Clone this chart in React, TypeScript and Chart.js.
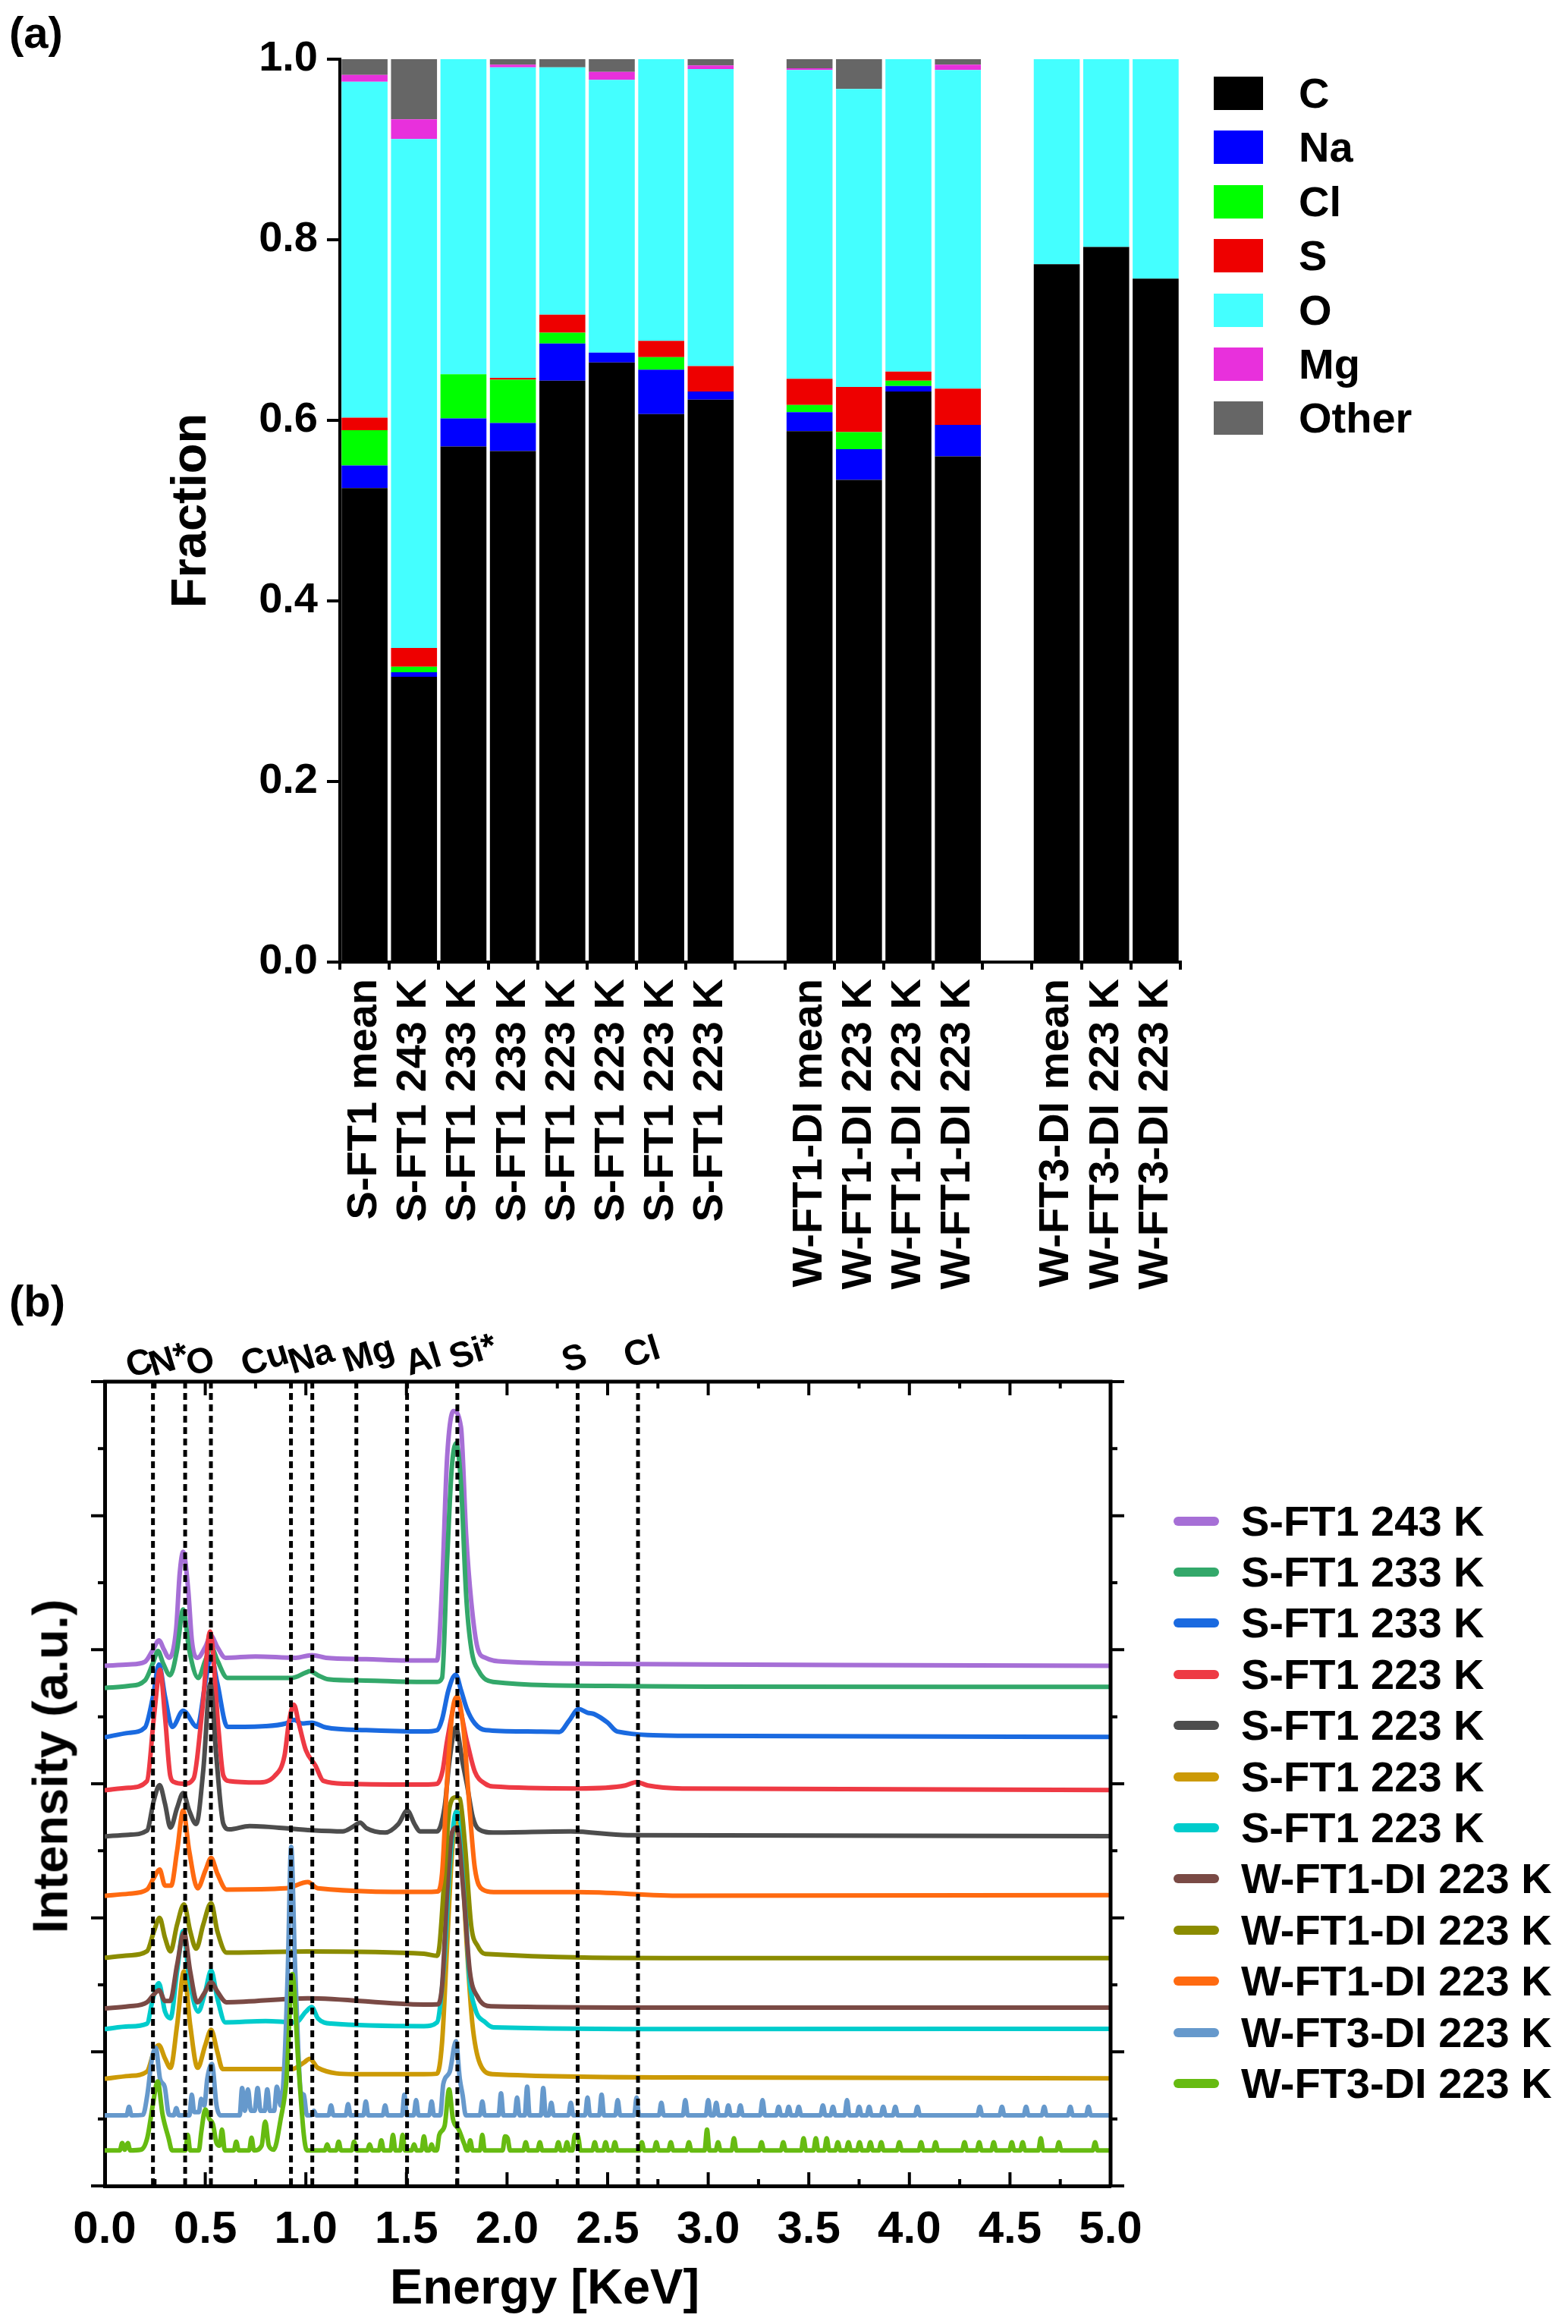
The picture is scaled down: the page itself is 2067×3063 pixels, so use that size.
import { useEffect, useRef } from "react"
import { Chart, registerables } from "chart.js"

Chart.register(...registerables)

const FONT = '"Liberation Sans", Arial, Helvetica, sans-serif'

// ---- panel (a): element fractions per sample ----
const sampleLabels = [
  "S-FT1 mean", "S-FT1 243 K", "S-FT1 233 K", "S-FT1 233 K",
  "S-FT1 223 K", "S-FT1 223 K", "S-FT1 223 K", "S-FT1 223 K",
  "",
  "W-FT1-DI mean", "W-FT1-DI 223 K", "W-FT1-DI 223 K", "W-FT1-DI 223 K",
  "",
  "W-FT3-DI mean", "W-FT3-DI 223 K", "W-FT3-DI 223 K",
]

const fracC = [0.525, 0.316, 0.571, 0.566, 0.644, 0.664, 0.607, 0.623, null, 0.588, 0.534, 0.632, 0.56, null, 0.773, 0.792, 0.757]
const fracNa = [0.025, 0.005, 0.031, 0.031, 0.041, 0.011, 0.049, 0.009, null, 0.021, 0.034, 0.006, 0.035, null, 0, 0, 0]
const fracCl = [0.039, 0.006, 0.049, 0.048, 0.012, 0, 0.014, 0, null, 0.008, 0.019, 0.006, 0, null, 0, 0, 0]
const fracS = [0.014, 0.021, 0, 0.002, 0.02, 0, 0.018, 0.028, null, 0.029, 0.05, 0.01, 0.04, null, 0, 0, 0]
const fracO = [0.372, 0.5635, 0.349, 0.344, 0.274, 0.302, 0.312, 0.329, null, 0.342, 0.33, 0.346, 0.353, null, 0.227, 0.208, 0.243]
const fracMg = [0.0075, 0.022, 0, 0.003, 0, 0.009, 0, 0.004, null, 0.002, 0, 0, 0.006, null, 0, 0, 0]
const fracOther = [0.0175, 0.0665, 0, 0.006, 0.009, 0.014, 0, 0.007, null, 0.01, 0.033, 0, 0.006, null, 0, 0, 0]

const elementNames = ["C", "Na", "Cl", "S", "O", "Mg", "Other"]
const elementColors = ["#000000", "#0000ff", "#00ff00", "#ee0000", "#44ffff", "#e830dc", "#666666"]
const elementData = [fracC, fracNa, fracCl, fracS, fracO, fracMg, fracOther]

// ---- panel (b): EDS spectra, [energy keV, offset intensity] ----
const peakNames = ["C", "N*", "O", "Cu", "Na", "Mg", "Al", "Si*", "S", "Cl"]
const peakEnergies = [0.24, 0.4, 0.528, 0.926, 1.032, 1.251, 1.503, 1.753, 2.351, 2.651]

const specS243 = [[0, 3.88], [0.12, 3.89], [0.2, 3.91], [0.24, 4.0], [0.27, 4.07], [0.295, 4.0], [0.32, 3.94], [0.355, 4.15], [0.373, 4.57], [0.39, 4.73], [0.415, 4.45], [0.434, 4.06], [0.462, 3.94], [0.5, 4.02], [0.528, 4.105], [0.56, 4.02], [0.6, 3.94], [0.75, 3.95], [0.95, 3.94], [1.03, 3.96], [1.1, 3.94], [1.3, 3.93], [1.5, 3.92], [1.652, 3.92], [1.677, 4.47], [1.702, 5.43], [1.734, 5.78], [1.771, 5.66], [1.797, 4.85], [1.822, 4.36], [1.854, 4.01], [1.892, 3.94], [2.0, 3.91], [2.5, 3.895], [3.0, 3.89], [4.0, 3.885], [5.0, 3.88]]
const specS233a = [[0, 3.715], [0.12, 3.73], [0.2, 3.77], [0.24, 3.9], [0.265, 3.99], [0.29, 3.9], [0.325, 3.81], [0.36, 4.0], [0.39, 4.3], [0.42, 4.0], [0.465, 3.79], [0.5, 3.92], [0.53, 4.02], [0.56, 3.92], [0.61, 3.79], [0.8, 3.79], [0.93, 3.79], [1.0, 3.83], [1.02, 3.84], [1.06, 3.81], [1.11, 3.78], [1.3, 3.77], [1.55, 3.76], [1.652, 3.76], [1.677, 3.79], [1.702, 4.66], [1.725, 5.35], [1.747, 5.54], [1.771, 5.24], [1.797, 4.4], [1.822, 4.01], [1.86, 3.84], [1.93, 3.76], [2.5, 3.73], [3.0, 3.725], [5.0, 3.723]]
const specS233b = [[0, 3.347], [0.12, 3.38], [0.2, 3.42], [0.24, 3.65], [0.27, 3.89], [0.3, 3.65], [0.336, 3.424], [0.39, 3.545], [0.46, 3.424], [0.5, 3.75], [0.528, 3.954], [0.56, 3.75], [0.61, 3.424], [0.8, 3.43], [0.9, 3.45], [0.942, 3.477], [0.98, 3.45], [1.029, 3.456], [1.1, 3.42], [1.3, 3.4], [1.587, 3.39], [1.652, 3.4], [1.677, 3.48], [1.709, 3.7], [1.745, 3.814], [1.771, 3.7], [1.8, 3.56], [1.84, 3.45], [1.894, 3.4], [2.1, 3.39], [2.26, 3.387], [2.308, 3.47], [2.356, 3.557], [2.4, 3.53], [2.433, 3.52], [2.5, 3.456], [2.548, 3.39], [2.87, 3.358], [5.0, 3.35]]
const specS223a = [[0, 2.952], [0.12, 2.97], [0.21, 3.02], [0.245, 3.5], [0.275, 3.85], [0.3, 3.5], [0.326, 3.06], [0.345, 3.013], [0.394, 3.0], [0.442, 3.04], [0.485, 3.55], [0.524, 4.136], [0.566, 3.4], [0.59, 3.06], [0.62, 3.02], [0.76, 3.01], [0.846, 3.06], [0.894, 3.21], [0.915, 3.45], [0.94, 3.59], [0.965, 3.45], [1.0, 3.25], [1.048, 3.135], [1.087, 3.022], [1.2, 3.0], [1.587, 2.994], [1.652, 3.0], [1.68, 3.1], [1.702, 3.32], [1.75, 3.62], [1.8, 3.32], [1.84, 3.09], [1.892, 3.0], [1.93, 2.98], [2.356, 2.965], [2.588, 2.987], [2.644, 3.013], [2.7, 2.987], [2.87, 2.965], [5.0, 2.954]]
const specS223b = [[0, 2.607], [0.12, 2.62], [0.21, 2.65], [0.245, 2.88], [0.273, 2.99], [0.3, 2.85], [0.327, 2.673], [0.36, 2.82], [0.39, 2.93], [0.42, 2.8], [0.455, 2.7], [0.49, 3.1], [0.525, 3.75], [0.555, 3.2], [0.59, 2.7], [0.62, 2.66], [0.72, 2.685], [1.01, 2.655], [1.183, 2.645], [1.235, 2.68], [1.27, 2.71], [1.3, 2.67], [1.394, 2.636], [1.46, 2.7], [1.504, 2.8], [1.54, 2.7], [1.567, 2.645], [1.652, 2.645], [1.69, 2.83], [1.712, 3.15], [1.745, 3.42], [1.78, 3.15], [1.8, 3.0], [1.83, 2.75], [1.86, 2.66], [1.93, 2.636], [2.317, 2.645], [2.6, 2.617], [5.0, 2.61]]
const specS223c = [[0, 0.8], [0.12, 0.82], [0.21, 0.853], [0.245, 1.0], [0.269, 1.05], [0.3, 0.95], [0.327, 0.881], [0.36, 1.2], [0.394, 1.6], [0.425, 1.2], [0.462, 0.881], [0.5, 1.05], [0.529, 1.165], [0.56, 1.0], [0.586, 0.872], [0.933, 0.872], [0.99, 0.92], [1.019, 0.948], [1.06, 0.88], [1.24, 0.834], [1.587, 0.834], [1.652, 0.837], [1.677, 1.07], [1.702, 1.79], [1.725, 2.45], [1.75, 2.8], [1.775, 2.45], [1.8, 1.79], [1.827, 1.22], [1.866, 0.91], [1.93, 0.834], [2.87, 0.81], [5.0, 0.803]]
const specS223d = [[0, 1.17], [0.12, 1.19], [0.21, 1.21], [0.24, 1.4], [0.269, 1.513], [0.3, 1.3], [0.327, 1.25], [0.36, 1.6], [0.39, 1.9], [0.42, 1.55], [0.465, 1.3], [0.5, 1.45], [0.529, 1.607], [0.56, 1.4], [0.6, 1.22], [0.8, 1.23], [0.95, 1.22], [1.0, 1.3], [1.029, 1.334], [1.06, 1.25], [1.125, 1.211], [1.587, 1.192], [1.652, 1.22], [1.664, 1.3], [1.69, 1.72], [1.715, 2.37], [1.747, 2.79], [1.78, 2.56], [1.81, 1.6], [1.84, 1.33], [1.892, 1.22], [1.933, 1.183], [2.87, 1.17], [5.0, 1.172]]
const specW1a = [[0, 1.325], [0.12, 1.34], [0.21, 1.37], [0.245, 1.43], [0.27, 1.46], [0.3, 1.38], [0.325, 1.38], [0.36, 1.65], [0.394, 1.89], [0.425, 1.6], [0.46, 1.37], [0.5, 1.45], [0.529, 1.52], [0.56, 1.45], [0.606, 1.37], [1.01, 1.4], [1.587, 1.353], [1.652, 1.354], [1.677, 1.49], [1.702, 2.18], [1.727, 2.64], [1.75, 2.675], [1.784, 2.18], [1.815, 1.6], [1.854, 1.41], [1.92, 1.34], [2.87, 1.33], [5.0, 1.33]]
const specW1b = [[0, 1.702], [0.12, 1.72], [0.21, 1.75], [0.245, 1.9], [0.273, 2.0], [0.3, 1.85], [0.327, 1.75], [0.36, 1.95], [0.394, 2.1], [0.425, 1.9], [0.455, 1.77], [0.49, 1.95], [0.529, 2.11], [0.56, 1.9], [0.606, 1.74], [1.01, 1.749], [1.587, 1.732], [1.652, 1.717], [1.664, 1.79], [1.69, 2.33], [1.715, 2.83], [1.745, 2.9], [1.765, 2.89], [1.79, 2.56], [1.822, 1.94], [1.854, 1.79], [1.892, 1.73], [2.87, 1.7], [5.0, 1.7]]
const specW1c = [[0, 2.164], [0.12, 2.18], [0.21, 2.21], [0.245, 2.3], [0.273, 2.36], [0.3, 2.24], [0.33, 2.24], [0.36, 2.5], [0.39, 2.8], [0.42, 2.5], [0.462, 2.22], [0.5, 2.35], [0.529, 2.447], [0.56, 2.33], [0.606, 2.211], [0.9, 2.22], [1.01, 2.267], [1.06, 2.22], [1.587, 2.193], [1.652, 2.196], [1.677, 2.33], [1.702, 3.02], [1.727, 3.52], [1.752, 3.65], [1.784, 3.4], [1.815, 2.79], [1.84, 2.37], [1.88, 2.21], [1.933, 2.192], [2.35, 2.192], [2.87, 2.165], [5.0, 2.17]]
const specW3a = [
  [0, 0.527], [0.109, 0.527], [0.121, 0.59], [0.133, 0.527],
  [0.19, 0.53], [0.212, 0.68], [0.235, 0.95], [0.254, 1.03], [0.275, 0.8], [0.298, 0.74], [0.32, 0.53],
  [0.344, 0.527], [0.356, 0.58], [0.368, 0.527],
  [0.421, 0.527], [0.433, 0.68], [0.445, 0.55], [0.468, 0.55], [0.48, 0.65], [0.495, 0.6], [0.51, 0.8], [0.533, 0.91], [0.556, 0.6], [0.575, 0.527],
  [0.671, 0.527], [0.683, 0.73], [0.697, 0.56], [0.712, 0.72], [0.727, 0.56], [0.745, 0.56], [0.76, 0.73], [0.775, 0.56], [0.795, 0.56], [0.808, 0.72], [0.822, 0.56], [0.842, 0.56], [0.856, 0.74], [0.875, 0.6], [0.894, 0.93], [0.91, 1.6], [0.927, 2.53], [0.945, 1.7], [0.962, 1.02], [0.975, 0.7], [0.99, 0.68], [1.005, 0.527],
  [1.028, 0.527], [1.04, 0.56], [1.052, 0.527],
  [1.113, 0.527], [1.125, 0.6], [1.137, 0.527],
  [1.198, 0.527], [1.21, 0.61], [1.222, 0.527],
  [1.286, 0.527], [1.298, 0.63], [1.31, 0.527],
  [1.382, 0.527], [1.394, 0.6], [1.406, 0.527],
  [1.478, 0.527], [1.49, 0.68], [1.502, 0.527],
  [1.536, 0.527], [1.548, 0.64], [1.56, 0.527],
  [1.613, 0.527], [1.625, 0.63], [1.637, 0.527],
  [1.668, 0.527], [1.683, 0.76], [1.715, 0.85], [1.746, 1.08], [1.765, 0.8], [1.779, 0.68], [1.795, 0.527],
  [1.865, 0.527], [1.877, 0.63], [1.889, 0.527],
  [1.958, 0.527], [1.97, 0.69], [1.982, 0.527],
  [2.038, 0.527], [2.05, 0.66], [2.062, 0.527],
  [2.088, 0.527], [2.1, 0.74], [2.112, 0.527],
  [2.168, 0.527], [2.18, 0.73], [2.192, 0.527],
  [2.208, 0.527], [2.22, 0.62], [2.232, 0.527],
  [2.305, 0.527], [2.317, 0.62], [2.329, 0.527],
  [2.388, 0.527], [2.4, 0.66], [2.412, 0.527],
  [2.458, 0.527], [2.47, 0.68], [2.482, 0.527],
  [2.538, 0.527], [2.55, 0.64], [2.562, 0.527],
  [2.632, 0.527], [2.644, 0.66], [2.656, 0.527],
  [2.755, 0.527], [2.767, 0.62], [2.779, 0.527],
  [2.874, 0.527], [2.886, 0.64], [2.898, 0.527],
  [2.988, 0.527], [3.0, 0.64], [3.012, 0.527],
  [3.028, 0.527], [3.04, 0.62], [3.052, 0.527],
  [3.088, 0.527], [3.1, 0.6], [3.112, 0.527],
  [3.148, 0.527], [3.16, 0.6], [3.172, 0.527],
  [3.258, 0.527], [3.27, 0.64], [3.282, 0.527],
  [3.338, 0.527], [3.35, 0.59], [3.362, 0.527],
  [3.388, 0.527], [3.4, 0.59], [3.412, 0.527],
  [3.438, 0.527], [3.45, 0.59], [3.462, 0.527],
  [3.558, 0.527], [3.57, 0.6], [3.582, 0.527],
  [3.608, 0.527], [3.62, 0.59], [3.632, 0.527],
  [3.678, 0.527], [3.69, 0.64], [3.702, 0.527],
  [3.738, 0.527], [3.75, 0.59], [3.762, 0.527],
  [3.788, 0.527], [3.8, 0.59], [3.812, 0.527],
  [3.858, 0.527], [3.87, 0.59], [3.882, 0.527],
  [3.918, 0.527], [3.93, 0.59], [3.942, 0.527],
  [4.028, 0.527], [4.04, 0.59], [4.052, 0.527],
  [4.338, 0.527], [4.35, 0.59], [4.362, 0.527],
  [4.448, 0.527], [4.46, 0.59], [4.472, 0.527],
  [4.568, 0.527], [4.58, 0.59], [4.592, 0.527],
  [4.658, 0.527], [4.67, 0.59], [4.682, 0.527],
  [4.788, 0.527], [4.8, 0.59], [4.812, 0.527],
  [4.878, 0.527], [4.89, 0.59], [4.902, 0.527],
  [5.0, 0.527],
]
const specW3b = [
  [0, 0.265], [0.075, 0.265], [0.087, 0.32], [0.1, 0.27], [0.115, 0.32], [0.127, 0.265],
  [0.18, 0.27], [0.212, 0.36], [0.24, 0.61], [0.263, 0.78], [0.288, 0.53], [0.317, 0.36], [0.335, 0.265],
  [0.401, 0.265], [0.413, 0.38], [0.425, 0.265],
  [0.468, 0.265], [0.48, 0.4], [0.5, 0.57], [0.52, 0.5], [0.538, 0.46], [0.556, 0.32], [0.571, 0.3], [0.583, 0.42], [0.597, 0.265],
  [0.642, 0.265], [0.654, 0.33], [0.666, 0.265],
  [0.718, 0.265], [0.73, 0.36], [0.742, 0.265],
  [0.78, 0.3], [0.798, 0.48], [0.816, 0.3], [0.84, 0.27], [0.875, 0.5], [0.904, 0.8], [0.933, 1.58], [0.962, 0.93], [0.99, 0.38], [1.005, 0.265],
  [1.094, 0.265], [1.106, 0.31], [1.118, 0.265],
  [1.151, 0.265], [1.163, 0.33], [1.175, 0.265],
  [1.228, 0.265], [1.24, 0.33], [1.252, 0.265],
  [1.305, 0.265], [1.317, 0.31], [1.329, 0.265],
  [1.363, 0.265], [1.375, 0.34], [1.387, 0.265],
  [1.421, 0.265], [1.433, 0.38], [1.445, 0.265],
  [1.469, 0.265], [1.481, 0.38], [1.493, 0.265],
  [1.526, 0.265], [1.538, 0.31], [1.55, 0.265],
  [1.575, 0.265], [1.587, 0.37], [1.599, 0.265],
  [1.613, 0.265], [1.625, 0.31], [1.637, 0.265],
  [1.651, 0.265], [1.663, 0.38], [1.69, 0.45], [1.712, 0.72], [1.731, 0.5], [1.76, 0.42], [1.788, 0.31], [1.8, 0.265],
  [1.805, 0.265], [1.817, 0.34], [1.829, 0.265],
  [1.865, 0.265], [1.877, 0.38], [1.889, 0.265],
  [1.978, 0.265], [1.99, 0.37], [2.003, 0.355], [2.015, 0.265],
  [2.081, 0.265], [2.093, 0.325], [2.105, 0.265],
  [2.151, 0.265], [2.163, 0.325], [2.175, 0.265],
  [2.243, 0.265], [2.255, 0.325], [2.267, 0.265],
  [2.286, 0.265], [2.298, 0.325], [2.31, 0.265],
  [2.325, 0.265], [2.337, 0.38], [2.353, 0.372], [2.365, 0.265],
  [2.424, 0.265], [2.436, 0.325], [2.448, 0.265],
  [2.478, 0.265], [2.49, 0.325], [2.502, 0.265],
  [2.524, 0.265], [2.536, 0.325], [2.548, 0.265],
  [2.658, 0.265], [2.67, 0.325], [2.682, 0.265],
  [2.73, 0.265], [2.742, 0.325], [2.754, 0.265],
  [2.802, 0.265], [2.814, 0.325], [2.826, 0.265],
  [2.892, 0.265], [2.904, 0.325], [2.916, 0.265],
  [2.982, 0.265], [2.994, 0.42], [3.006, 0.265],
  [3.037, 0.265], [3.049, 0.325], [3.061, 0.265],
  [3.116, 0.265], [3.128, 0.355], [3.14, 0.265],
  [3.253, 0.265], [3.265, 0.325], [3.277, 0.265],
  [3.361, 0.265], [3.373, 0.325], [3.385, 0.265],
  [3.462, 0.265], [3.474, 0.355], [3.486, 0.265],
  [3.523, 0.265], [3.535, 0.355], [3.547, 0.265],
  [3.577, 0.265], [3.589, 0.355], [3.601, 0.265],
  [3.632, 0.265], [3.644, 0.325], [3.656, 0.265],
  [3.685, 0.265], [3.697, 0.325], [3.709, 0.265],
  [3.74, 0.265], [3.752, 0.325], [3.764, 0.265],
  [3.794, 0.265], [3.806, 0.325], [3.818, 0.265],
  [3.848, 0.265], [3.86, 0.325], [3.872, 0.265],
  [3.938, 0.265], [3.95, 0.325], [3.962, 0.265],
  [4.046, 0.265], [4.058, 0.325], [4.07, 0.265],
  [4.118, 0.265], [4.13, 0.325], [4.142, 0.265],
  [4.262, 0.265], [4.274, 0.325], [4.286, 0.265],
  [4.335, 0.265], [4.347, 0.325], [4.359, 0.265],
  [4.407, 0.265], [4.419, 0.325], [4.431, 0.265],
  [4.497, 0.265], [4.509, 0.325], [4.521, 0.265],
  [4.551, 0.265], [4.563, 0.325], [4.575, 0.265],
  [4.641, 0.265], [4.653, 0.355], [4.665, 0.265],
  [4.731, 0.265], [4.743, 0.325], [4.755, 0.265],
  [4.911, 0.265], [4.923, 0.325], [4.935, 0.265],
  [5.0, 0.265],
]

const spectrumLabels = [
  "S-FT1 243 K", "S-FT1 233 K", "S-FT1 233 K", "S-FT1 223 K", "S-FT1 223 K", "S-FT1 223 K",
  "S-FT1 223 K", "W-FT1-DI 223 K", "W-FT1-DI 223 K", "W-FT1-DI 223 K", "W-FT3-DI 223 K", "W-FT3-DI 223 K",
]
const spectrumColors = [
  "#a66fd6", "#33a86a", "#1a6ae0", "#ee3a44", "#4d4d4d", "#cc9a06",
  "#00cccc", "#7a4a45", "#8b8c00", "#ff6a10", "#6699cc", "#66bb11",
]
const spectra = [specS243, specS233a, specS233b, specS223a, specS223b, specS223c, specS223d, specW1a, specW1b, specW1c, specW3a, specW3b]

// label nudges [dx, dy] in px for the peak names above panel (b)
const peakLabelShift = [[-30, -5], [-42, -7], [-27, -7], [-60, -7], [-26, -10], [-12, -12], [3, -8], [-5, -16], [-15, -12], [-13, -18]]

const boldFont = (size: number) => ({ family: FONT, size, weight: "bold" as const })

function BarPanel() {
  const canvasRef = useRef<HTMLCanvasElement>(null)
  const chartRef = useRef<Chart | null>(null)

  useEffect(() => {
    if (!canvasRef.current) return
    if (chartRef.current) chartRef.current.destroy()

    chartRef.current = new Chart(canvasRef.current, {
      type: "bar",
      data: {
        labels: sampleLabels,
        datasets: elementNames.map((name, i) => ({
          label: name,
          data: elementData[i],
          backgroundColor: elementColors[i],
          borderWidth: 0,
          barPercentage: 0.93,
          categoryPercentage: 1,
        })),
      },
      options: {
        responsive: false,
        animation: false,
        devicePixelRatio: 1,
        layout: { padding: { top: 78, right: 511, bottom: 0, left: 0 } },
        plugins: { legend: { display: false }, tooltip: { enabled: false } },
        scales: {
          x: {
            stacked: true,
            grid: { display: true, drawOnChartArea: false, offset: true, tickLength: 10, color: "#000", lineWidth: 4 },
            border: { display: true, color: "#000", width: 4 },
            ticks: { color: "#000", font: boldFont(56), minRotation: 90, maxRotation: 90, autoSkip: false, padding: 12 },
            afterFit: (scale: any) => { scale.height = 432 },
          },
          y: {
            stacked: true,
            min: 0,
            max: 1,
            grid: { display: true, drawOnChartArea: false, tickLength: 17, color: "#000", lineWidth: 4 },
            border: { display: true, color: "#000", width: 4 },
            ticks: { stepSize: 0.2, color: "#000", font: boldFont(56), padding: 12, callback: (v: any) => Number(v).toFixed(1) },
            title: { display: true, text: "Fraction", color: "#000", font: boldFont(65), padding: { top: 214, bottom: 0 } },
            afterFit: (scale: any) => { scale.width = 448 },
          },
        },
      },
    })

    return () => {
      if (chartRef.current) chartRef.current.destroy()
      chartRef.current = null
    }
  }, [])

  return (
    <>
      <canvas ref={canvasRef} width={2067} height={1700} style={{ position: "absolute", left: 0, top: 0 }} />
      <div style={{ position: "absolute", left: 12, top: 14, font: `bold 58px ${FONT}`, lineHeight: 1 }}>(a)</div>
      {elementNames.map((name, i) => (
        <div key={name}>
          <div style={{ position: "absolute", left: 1600, top: 101 + i * 71.4, width: 65, height: 44, background: elementColors[i] }} />
          <div style={{ position: "absolute", left: 1712, top: 123 + i * 71.4, transform: "translateY(-50%)", font: `bold 56px ${FONT}`, lineHeight: 1, whiteSpace: "nowrap" }}>{name}</div>
        </div>
      ))}
    </>
  )
}

const spectraDecor = {
  id: "spectraDecor",
  afterDatasetsDraw(chart: any) {
    const { ctx, chartArea: a, scales } = chart
    const x = scales.x
    ctx.save()
    ctx.strokeStyle = "#000"
    ctx.lineWidth = 5
    ctx.setLineDash([9, 6])
    peakEnergies.forEach((e) => {
      const px = x.getPixelForValue(e)
      ctx.beginPath()
      ctx.moveTo(px, a.top)
      ctx.lineTo(px, a.bottom)
      ctx.stroke()
    })
    ctx.restore()
  },
  afterDraw(chart: any) {
    const { ctx, chartArea: a, scales } = chart
    const x = scales.x
    const y = scales.y
    ctx.save()
    ctx.strokeStyle = "#000"
    ctx.lineCap = "butt"
    // frame on top and right
    ctx.lineWidth = 5
    ctx.beginPath()
    ctx.moveTo(a.left - 2, a.top)
    ctx.lineTo(a.right, a.top)
    ctx.lineTo(a.right, a.bottom + 2)
    ctx.stroke()

    // x ticks: inward on bottom and top, minor halfway between majors
    ctx.lineWidth = 4
    const xt = x.ticks.map((t: any) => t.value)
    const xMinor = xt.slice(1).map((v: number, i: number) => (v + xt[i]) / 2)
    const xMarks = [...xt.map((v: number) => [v, 18]), ...xMinor.map((v: number) => [v, 9])]
    xMarks.forEach(([v, len]: number[]) => {
      const px = x.getPixelForValue(v)
      ctx.beginPath()
      ctx.moveTo(px, a.bottom)
      ctx.lineTo(px, a.bottom - len)
      ctx.moveTo(px, a.top)
      ctx.lineTo(px, a.top + len)
      ctx.stroke()
    })
    // y ticks: outward on left and right
    const yt = y.ticks.map((t: any) => t.value)
    const yMinor = yt.slice(1).map((v: number, i: number) => (v + yt[i]) / 2)
    const yMarks = [...yt.map((v: number) => [v, 18]), ...yMinor.map((v: number) => [v, 9])]
    yMarks.forEach(([v, len]: number[]) => {
      const py = y.getPixelForValue(v)
      ctx.beginPath()
      ctx.moveTo(a.left, py)
      ctx.lineTo(a.left - len, py)
      ctx.moveTo(a.right, py)
      ctx.lineTo(a.right + len, py)
      ctx.stroke()
    })

    // peak names above the frame
    ctx.fillStyle = "#000"
    ctx.font = `bold 47px ${FONT}`
    ctx.textAlign = "left"
    ctx.textBaseline = "alphabetic"
    peakNames.forEach((name, i) => {
      const px = x.getPixelForValue(peakEnergies[i]) + peakLabelShift[i][0]
      const py = a.top + peakLabelShift[i][1]
      ctx.save()
      ctx.translate(px, py)
      ctx.rotate(-0.3)
      ctx.fillText(name, 0, 0)
      ctx.restore()
    })
    ctx.restore()
  },
}

function SpectraPanel() {
  const canvasRef = useRef<HTMLCanvasElement>(null)
  const chartRef = useRef<Chart | null>(null)

  useEffect(() => {
    if (!canvasRef.current) return
    if (chartRef.current) chartRef.current.destroy()

    chartRef.current = new Chart(canvasRef.current, {
      type: "line",
      data: {
        datasets: spectra.map((pts, i) => ({
          label: spectrumLabels[i],
          data: pts.map(([e, v]) => ({ x: e, y: v })),
          borderColor: spectrumColors[i],
          borderWidth: 6,
          pointRadius: 0,
          fill: false,
          cubicInterpolationMode: "monotone",
          borderJoinStyle: "round",
          order: spectra.length - i,
        })),
      },
      options: {
        responsive: false,
        animation: false,
        devicePixelRatio: 1,
        layout: { padding: { top: 121, right: 603, bottom: 0, left: 0 } },
        plugins: { legend: { display: false }, tooltip: { enabled: false } },
        scales: {
          x: {
            type: "linear",
            min: 0,
            max: 5,
            grid: { display: false, drawTicks: false },
            border: { display: true, color: "#000", width: 5 },
            ticks: { stepSize: 0.5, color: "#000", font: boldFont(60), padding: 22, maxRotation: 0, callback: (v: any) => Number(v).toFixed(1) },
            afterFit: (scale: any) => { scale.height = 182 },
          },
          y: {
            min: 0,
            max: 6,
            grid: { display: false, drawTicks: false },
            border: { display: true, color: "#000", width: 5 },
            ticks: { display: false, stepSize: 1 },
            afterFit: (scale: any) => { scale.width = 138 },
          },
        },
      },
      plugins: [spectraDecor],
    })

    return () => {
      if (chartRef.current) chartRef.current.destroy()
      chartRef.current = null
    }
  }, [])

  return (
    <>
      <canvas ref={canvasRef} width={2067} height={1363} style={{ position: "absolute", left: 0, top: 1700 }} />
      <div style={{ position: "absolute", left: 12, top: 1686, font: `bold 58px ${FONT}`, lineHeight: 1 }}>(b)</div>
      <div style={{ position: "absolute", left: 66, top: 2328, transform: "translate(-50%, -50%) rotate(-90deg)", font: `bold 65px ${FONT}`, lineHeight: 1, whiteSpace: "nowrap" }}>Intensity (a.u.)</div>
      <div style={{ position: "absolute", left: 718, top: 3013, transform: "translate(-50%, -50%)", font: `bold 65px ${FONT}`, lineHeight: 1, whiteSpace: "nowrap" }}>Energy [KeV]</div>
      {spectrumLabels.map((label, i) => (
        <div key={i}>
          <div style={{ position: "absolute", left: 1547, top: 2004.6 + i * 67.4 - 6, width: 60, height: 12, borderRadius: 6, background: spectrumColors[i] }} />
          <div style={{ position: "absolute", left: 1636, top: 2004.6 + i * 67.4, transform: "translateY(-50%)", font: `bold 56px ${FONT}`, lineHeight: 1, whiteSpace: "nowrap" }}>{label}</div>
        </div>
      ))}
    </>
  )
}

export default function App() {
  return (
    <div style={{ position: "absolute", left: 0, top: 0, width: 2067, height: 3063, background: "#fff", overflow: "hidden" }}>
      <BarPanel />
      <SpectraPanel />
    </div>
  )
}
